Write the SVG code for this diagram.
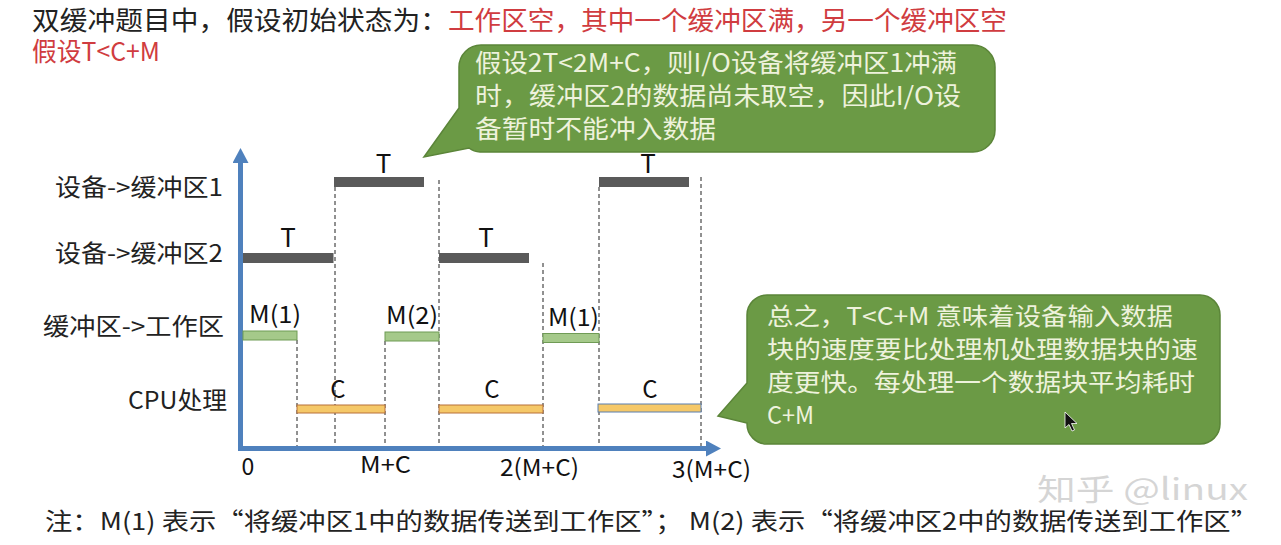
<svg xmlns="http://www.w3.org/2000/svg" width="1281" height="545" viewBox="0 0 1281 545">
<defs>
<style>
text { font-family: "Noto Sans CJK SC", "Noto Sans", sans-serif; }
.title { font-size: 26px; fill: #222222; }
.red { fill: #d03c40; }
.lbl { font-size: 24px; fill: #222222; }
.bl { font-size: 24px; fill: #111111; }
.ax { font-size: 23px; fill: #111111; }
.co { font-size: 25px; fill: #eef2dc; }
.callout { fill: #6b9a45; stroke: #5b8539; stroke-width: 1.5; }
.gray { fill: #5a5a5a; }
.green { fill: #a5c98a; stroke: #6f9b55; stroke-width: 1; }
.yellow { fill: #f5c868; stroke: #b8703a; stroke-width: 1; }
.dash { stroke: #222222; stroke-width: 1; stroke-dasharray: 4 3; fill: none; }
.axis { stroke: #4f81bd; stroke-width: 5; fill: none; }
.wm { font-size: 30px; fill: #c8c8c8; fill-opacity: 0.75; }
</style>
<marker id="axhead" markerUnits="userSpaceOnUse" markerWidth="15" markerHeight="16" refX="0" refY="8" orient="auto">
<path d="M0,0 L15,8 L0,16 Z" fill="#4f81bd"/>
</marker>
</defs>
<rect x="0" y="0" width="1281" height="545" fill="#ffffff"/>

<g id="title">
<text class="title" x="32" y="30" textLength="416" lengthAdjust="spacingAndGlyphs">双缓冲题目中，假设初始状态为：</text>
<text class="title red" x="448" y="30" textLength="559" lengthAdjust="spacingAndGlyphs">工作区空，其中一个缓冲区满，另一个缓冲区空</text>
<text class="title red" x="32" y="61" textLength="128" lengthAdjust="spacingAndGlyphs">假设T&lt;C+M</text>
</g>

<g id="callout-top">
<path class="callout" d="M481,45 H973 A22,22 0 0 1 995,67 V130 A22,22 0 0 1 973,152 H480 A20,20 0 0 1 469,148 L424,157 L459,108 V67 A22,22 0 0 1 481,45 Z"/>
<text class="co" x="475" y="72" textLength="482" lengthAdjust="spacingAndGlyphs">假设2T&lt;2M+C，则I/O设备将缓冲区1冲满</text>
<text class="co" x="475" y="105" textLength="486" lengthAdjust="spacingAndGlyphs">时，缓冲区2的数据尚未取空，因此I/O设</text>
<text class="co" x="475" y="138" textLength="241" lengthAdjust="spacingAndGlyphs">备暂时不能冲入数据</text>
</g>

<g id="row-labels">
<text id="lbl-dev-buf1" class="lbl" x="55" y="196" textLength="168" lengthAdjust="spacingAndGlyphs">设备-&gt;缓冲区1</text>
<text id="lbl-dev-buf2" class="lbl" x="55" y="262" textLength="168" lengthAdjust="spacingAndGlyphs">设备-&gt;缓冲区2</text>
<text id="lbl-buf-work" class="lbl" x="43" y="335" textLength="181" lengthAdjust="spacingAndGlyphs">缓冲区-&gt;工作区</text>
<text id="lbl-cpu" class="lbl" x="128" y="409" textLength="99" lengthAdjust="spacingAndGlyphs">CPU处理</text>
</g>

<g id="connectors">
<line class="dash" x1="297" y1="340" x2="297" y2="447"/>
<line class="dash" x1="335" y1="187" x2="335" y2="447"/>
<line class="dash" x1="385" y1="341" x2="385" y2="447"/>
<line class="dash" x1="439" y1="180" x2="439" y2="447"/>
<line class="dash" x1="543" y1="263" x2="543" y2="447"/>
<line class="dash" x1="599" y1="187" x2="599" y2="447"/>
<line class="dash" x1="701" y1="177" x2="701" y2="447"/>
</g>

<g id="axes">
<line class="axis" x1="240.5" y1="451" x2="240.5" y2="163" marker-end="url(#axhead)"/>
<line class="axis" x1="238" y1="448.5" x2="706" y2="448.5" marker-end="url(#axhead)"/>
<text class="ax" x="248" y="475" text-anchor="middle">0</text>
<text class="ax" x="360" y="473" textLength="51" lengthAdjust="spacingAndGlyphs">M+C</text>
<text class="ax" x="500" y="476" textLength="79" lengthAdjust="spacingAndGlyphs">2(M+C)</text>
<text class="ax" x="672" y="478" textLength="79" lengthAdjust="spacingAndGlyphs">3(M+C)</text>
</g>

<g id="bar-dev-buf1-a">
<rect class="gray" x="334" y="177" width="90" height="10"/>
<text class="bl" x="383.5" y="173" text-anchor="middle" style="font-size:26px">T</text>
</g>
<g id="bar-dev-buf1-b">
<rect class="gray" x="599" y="177" width="90" height="10"/>
<text class="bl" x="648" y="173" text-anchor="middle" style="font-size:26px">T</text>
</g>
<g id="bar-dev-buf2-a">
<rect class="gray" x="243" y="253" width="90.5" height="10"/>
<text class="bl" x="288" y="247" text-anchor="middle" style="font-size:26px">T</text>
</g>
<g id="bar-dev-buf2-b">
<rect class="gray" x="439" y="253" width="90" height="10"/>
<text class="bl" x="486" y="247" text-anchor="middle" style="font-size:26px">T</text>
</g>

<g id="bar-m1-a">
<rect class="green" x="243" y="331" width="54" height="9"/>
<text class="bl" x="249" y="323" textLength="52" lengthAdjust="spacingAndGlyphs">M(1)</text>
</g>
<g id="bar-m2">
<rect class="green" x="385" y="332" width="54" height="9"/>
<text class="bl" x="386" y="324" textLength="52" lengthAdjust="spacingAndGlyphs">M(2)</text>
</g>
<g id="bar-m1-b">
<rect class="green" x="543" y="333.5" width="56" height="9"/>
<text class="bl" x="548" y="326" textLength="51" lengthAdjust="spacingAndGlyphs">M(1)</text>
</g>

<g id="bar-c-a">
<rect class="yellow" x="297" y="405" width="88" height="8"/>
<text class="bl" x="338" y="398" text-anchor="middle">C</text>
</g>
<g id="bar-c-b">
<rect class="yellow" x="439" y="405" width="104" height="8"/>
<text class="bl" x="492" y="398" text-anchor="middle">C</text>
</g>
<g id="bar-c-c">
<rect class="yellow" x="598" y="404" width="103" height="8" style="stroke:#5a7fae"/>
<text class="bl" x="650" y="398" text-anchor="middle">C</text>
</g>

<g id="callout-bottom">
<path class="callout" d="M767,295 H1200 A20,20 0 0 1 1220,315 V424 A20,20 0 0 1 1200,444 H767 A20,20 0 0 1 747,424 V423 L718,416 L747,383 V315 A20,20 0 0 1 767,295 Z"/>
<text class="co" x="767" y="325" style="font-size:24px" textLength="406" lengthAdjust="spacingAndGlyphs">总之，T&lt;C+M 意味着设备输入数据</text>
<text class="co" x="767" y="358" style="font-size:24px" textLength="431" lengthAdjust="spacingAndGlyphs">块的速度要比处理机处理数据块的速</text>
<text class="co" x="767" y="391" style="font-size:24px" textLength="428" lengthAdjust="spacingAndGlyphs">度更快。每处理一个数据块平均耗时</text>
<text class="co" x="767" y="424" style="font-size:24px" textLength="47" lengthAdjust="spacingAndGlyphs">C+M</text>
<path d="M1065,412 V428 L1069,424.5 L1072,431 L1074.5,430 L1071.5,423.5 L1077,423.5 Z" fill="#111111" stroke="#ffffff" stroke-width="0.8"/>
</g>

<g id="note">
<text class="title" x="45" y="530" style="font-size:24px" textLength="1213" lengthAdjust="spacingAndGlyphs">注：M(1) 表示“将缓冲区1中的数据传送到工作区”； M(2) 表示“将缓冲区2中的数据传送到工作区”</text>
</g>

<g id="watermark">
<text class="wm" x="1037" y="500" textLength="211" lengthAdjust="spacingAndGlyphs">知乎 @linux</text>
</g>
</svg>
